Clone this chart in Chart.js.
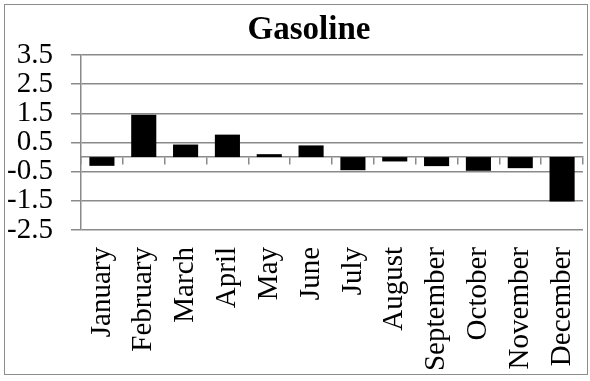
<!DOCTYPE html>
<html>
<head>
<meta charset="utf-8">
<title>Gasoline</title>
<script src="https://cdn.jsdelivr.net/npm/chart.js@4/dist/chart.umd.min.js"></script>
<style>
  html, body { margin: 0; padding: 0; background: #ffffff; }
  #wrap { position: relative; width: 590px; height: 381px; }
  #frame {
    position: absolute; left: 4px; top: 4px; width: 582px; height: 369px;
    border: 1.5px solid #8c8c8c; pointer-events: none;
  }
  canvas { position: absolute; left: 0; top: 0; }
</style>
</head>
<body>
<div id="wrap">
  <canvas id="chart" width="590" height="381"></canvas>
  <div id="frame"></div>
</div>
<script>
// Monthly change, gasoline
const months = ["January", "February", "March", "April", "May", "June",
                "July", "August", "September", "October", "November", "December"];
const gasoline = [-0.3, 1.45, 0.43, 0.77, 0.1, 0.4, -0.45, -0.15, -0.31, -0.47, -0.38, -1.52];
const yTicks = [-2.5, -1.5, -0.5, 0.5, 1.5, 2.5, 3.5];

const serif = '"Liberation Serif", "Times New Roman", Times, serif';
const axisGray = '#8a8a8a';

Chart.defaults.font.family = serif;
Chart.defaults.color = '#000000';

// Centre the title over the span that starts where the value labels end
const titleSpan = {
  id: 'titleSpan',
  afterLayout(chart) {
    if (chart.titleBlock) chart.titleBlock.left = 35;
  }
};

new Chart(document.getElementById('chart'), {
  type: 'bar',
  plugins: [titleSpan],
  data: {
    labels: months,
    datasets: [{
      label: 'Gasoline',
      data: gasoline,
      backgroundColor: '#000000',
      borderWidth: 0,
      barPercentage: 0.6,
      categoryPercentage: 1.0,
      xAxisID: 'x',
      yAxisID: 'y'
    }]
  },
  options: {
    responsive: false,
    animation: false,
    devicePixelRatio: 1,
    layout: { padding: { left: 6, right: 7, top: 6, bottom: 6 } },
    plugins: {
      legend: { display: false },
      tooltip: { enabled: false },
      title: {
        display: true,
        text: 'Gasoline',
        color: '#000000',
        font: { family: serif, size: 33, weight: 'bold', lineHeight: 1 },
        padding: { top: 7.5, bottom: 8.5 }
      }
    },
    scales: {
      // category labels along the bottom
      x: {
        type: 'category',
        position: 'bottom',
        offset: true,
        grid: { display: false, offset: true },
        border: { display: false },
        ticks: {
          autoSkip: false,
          minRotation: 90,
          maxRotation: 90,
          padding: 9,
          color: '#000000',
          font: { family: serif, size: 29, lineHeight: 1 }
        },
        afterFit: (scale) => {
          scale.height = 145;
          scale.paddingLeft = 0;
          scale.paddingRight = 0;
        }
      },
      // horizontal axis line crossing at zero, with tick marks between months
      x0: {
        type: 'category',
        position: { y: 0 },
        offset: true,
        z: 1,
        grid: {
          display: true,
          offset: true,
          drawOnChartArea: false,
          drawTicks: true,
          tickLength: 7,
          color: axisGray,
          lineWidth: 1.5
        },
        border: { display: true, color: axisGray, width: 1.5 },
        ticks: { display: false }
      },
      y: {
        type: 'linear',
        position: 'left',
        min: -2.5,
        max: 3.5,
        afterBuildTicks: (scale) => { scale.ticks = yTicks.map(v => ({ value: v })); },
        grid: {
          color: axisGray,
          lineWidth: 1.5,
          drawTicks: true,
          tickLength: 10
        },
        border: { display: true, color: axisGray, width: 1.5 },
        ticks: {
          autoSkip: false,
          padding: 18,
          color: '#000000',
          font: { family: serif, size: 29, lineHeight: 1 },
          callback: (v) => v.toFixed(1)
        },
        afterFit: (scale) => { scale.width = 75; }
      }
    }
  }
});
</script>
</body>
</html>
